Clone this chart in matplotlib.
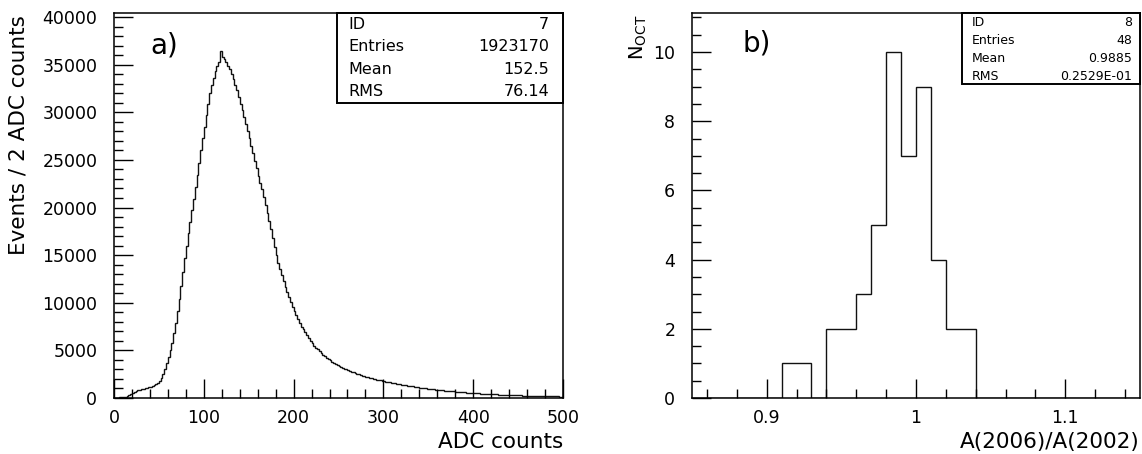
import numpy as np
import matplotlib
matplotlib.use("Agg")
import matplotlib.pyplot as plt
from matplotlib.patches import Rectangle
from matplotlib.ticker import MultipleLocator, FuncFormatter


# =========================
# Dados
# =========================
# a) espectro ADC, bins de 2 contagens entre 0 e 500
ADC_MIN, ADC_MAX, ADC_BIN = 0, 500, 2
adc_counts = [
    20, 30, 50, 60, 80, 110, 150, 200, 280, 380,
    480, 600, 720, 800, 860, 910, 950, 1000, 1060, 1120,
    1180, 1250, 1330, 1450, 1560, 1750, 2050, 2500, 3050, 3700,
    4300, 5000, 5800, 6800, 7900, 9100, 10400, 11800, 13200, 14700,
    16000, 17300, 18500, 19700, 20900, 22100, 23400, 24700, 26000, 27300,
    28500, 29700, 30900, 32000, 32900, 33600, 34300, 34900, 35300, 36400,
    35800, 35600, 35300, 34900, 34500, 34000, 33500, 32900, 32300, 31600,
    30900, 30200, 29500, 28800, 28000, 27300, 26500, 25700, 24900, 24100,
    23300, 22600, 21900, 21100, 20300, 19400, 18600, 17700, 16800, 15900,
    15000, 14200, 13500, 12900, 12300, 11700, 11100, 10600, 10100, 9600,
    9100, 8700, 8300, 7900, 7500, 7200, 6900, 6600, 6300, 6000,
    5750, 5500, 5300, 5100, 4900, 4700, 4550, 4400, 4250, 4100,
    3950, 3820, 3700, 3580, 3470, 3370, 3270, 3180, 3090, 3000,
    2920, 2840, 2760, 2690, 2620, 2550, 2480, 2420, 2360, 2300,
    2240, 2180, 2130, 2080, 2030, 1980, 1930, 1890, 1840, 1800,
    1760, 1720, 1680, 1640, 1600, 1560, 1530, 1490, 1460, 1420,
    1390, 1360, 1330, 1300, 1270, 1240, 1210, 1180, 1150, 1120,
    1100, 1070, 1040, 1020, 990, 970, 940, 920, 900, 880,
    860, 840, 820, 800, 780, 760, 740, 720, 700, 690,
    670, 650, 640, 620, 600, 590, 570, 560, 540, 530,
    520, 500, 490, 480, 470, 450, 440, 430, 420, 410,
    400, 390, 380, 370, 360, 350, 345, 335, 330, 320,
    310, 305, 295, 290, 280, 275, 270, 260, 255, 250,
    240, 235, 230, 225, 220, 215, 210, 205, 200, 195,
    190, 185, 180, 175, 172, 168, 165, 160, 155, 150,
]

# b) razão A(2006)/A(2002), bins de 0.01 entre 0.85 e 1.15
RATIO_MIN, RATIO_MAX, RATIO_BIN = 0.85, 1.15, 0.01
ratio_counts = [
    0, 0, 0, 0, 0, 0, 1, 1, 0, 2,
    2, 3, 5, 10, 7, 9, 4, 2, 2, 0,
    0, 0, 0, 0, 0, 0, 0, 0, 0, 0,
]

# caixas de estatística (estilo PAW)
stats_a = [("ID", "7"), ("Entries", "1923170"), ("Mean", "152.5"), ("RMS", "76.14")]
stats_b = [("ID", "8"), ("Entries", "48"), ("Mean", "0.9885"), ("RMS", "0.2529E-01")]

PX = 1 / 100  # 1 pixel em polegadas (dpi=100)


# =========================
# Helpers
# =========================
def style_axes(ax):
    for sp in ax.spines.values():
        sp.set_linewidth(1.1)
        sp.set_color("black")
    ax.tick_params(which="both", direction="in", top=False, right=False,
                   width=1.0, colors="black", labelsize=12.5)
    ax.tick_params(axis="x", pad=8)
    ax.tick_params(axis="y", pad=12)
    ax.tick_params(which="major", length=13.7)
    ax.tick_params(which="minor", length=6.5)


def stats_box(ax, rows, x0, y0, xt, xv, ys, fs):
    ax.add_patch(Rectangle((x0, y0), 1.0 - x0, 1.0 - y0, transform=ax.transAxes,
                           facecolor="white", edgecolor="black", lw=1.4,
                           clip_on=False, zorder=5))
    for (name, val), y in zip(rows, ys):
        ax.text(xt, y, name, transform=ax.transAxes, ha="left", va="center",
                fontsize=fs, zorder=6)
        ax.text(xv, y, val, transform=ax.transAxes, ha="right", va="center",
                fontsize=fs, zorder=6)


def main():
    plt.rcParams["font.family"] = ["DejaVu Sans"]
    plt.rcParams["mathtext.fontset"] = "dejavusans"

    fig = plt.figure(figsize=(1142 * PX, 454 * PX), dpi=100)

    # ---------- a) ----------
    ax1 = fig.add_axes([114 / 1142, 56 / 454, 449 / 1142, 385 / 454])
    adc_edges = np.arange(ADC_MIN, ADC_MAX + ADC_BIN, ADC_BIN)
    ax1.stairs(adc_counts, adc_edges, color="#111111", lw=1.0)
    ax1.set_xlim(ADC_MIN, ADC_MAX)
    ax1.set_ylim(0, 40420)
    ax1.xaxis.set_major_locator(MultipleLocator(100))
    ax1.xaxis.set_minor_locator(MultipleLocator(20))
    ax1.yaxis.set_major_locator(MultipleLocator(5000))
    ax1.yaxis.set_minor_locator(MultipleLocator(1000))
    style_axes(ax1)

    ax1.text(1.0, -0.13, "ADC counts", transform=ax1.transAxes,
             ha="right", va="baseline", fontsize=15.5)
    ax1.text(-0.212, 0.995, "Events / 2 ADC counts", transform=ax1.transAxes,
             rotation=90, ha="center", va="top", fontsize=15.5)
    ax1.text(0.08, 0.896, "a)", transform=ax1.transAxes, ha="left",
             va="baseline", fontsize=20)
    stats_box(ax1, stats_a, 0.497, 0.766, 0.523, 0.969,
              [0.969, 0.912, 0.852, 0.795], 11.5)

    # ---------- b) ----------
    ax2 = fig.add_axes([692 / 1142, 56 / 454, 448 / 1142, 385 / 454])
    ratio_edges = np.linspace(RATIO_MIN, RATIO_MAX, len(ratio_counts) + 1)
    ax2.stairs(ratio_counts, ratio_edges, color="#111111", lw=1.0)
    ax2.set_xlim(RATIO_MIN, RATIO_MAX)
    ax2.set_ylim(0, 11.13)
    ax2.xaxis.set_major_locator(MultipleLocator(0.1))
    ax2.xaxis.set_minor_locator(MultipleLocator(0.02))
    ax2.yaxis.set_major_locator(MultipleLocator(2))
    ax2.yaxis.set_minor_locator(MultipleLocator(0.5))
    ax2.xaxis.set_major_formatter(FuncFormatter(lambda v, p: "%g" % round(v, 3)))
    style_axes(ax2)

    ax2.text(1.0, -0.13, "A(2006)/A(2002)", transform=ax2.transAxes,
             ha="right", va="baseline", fontsize=15.5)
    ax2.text(-0.12, 0.997, r"N$_{\mathrm{OCT}}$", transform=ax2.transAxes,
             rotation=90, ha="center", va="top", fontsize=14)
    ax2.text(0.112, 0.899, "b)", transform=ax2.transAxes, ha="left",
             va="baseline", fontsize=20)
    stats_box(ax2, stats_b, 0.603, 0.816, 0.625, 0.982,
              [0.975, 0.928, 0.881, 0.835], 9)

    fig.savefig("out.png", dpi=100)
    plt.close(fig)


if __name__ == "__main__":
    main()
